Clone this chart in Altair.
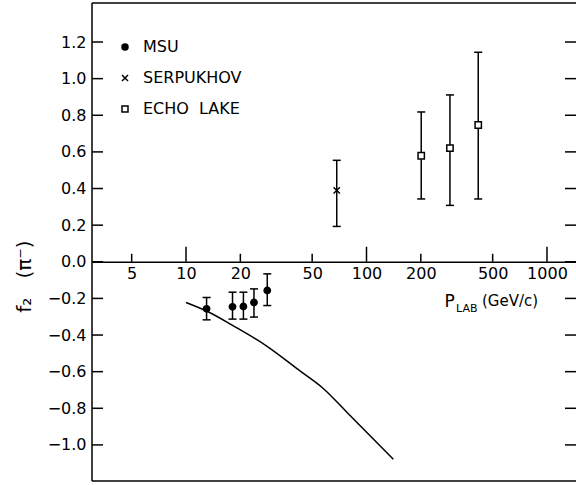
import altair as alt
import pandas as pd

# ---------------- data ----------------
msu_p = [13.0, 18.1, 20.8, 23.8, 28.2]
msu_f2 = [-0.257, -0.246, -0.244, -0.222, -0.157]
msu_lo = [-0.317, -0.313, -0.313, -0.302, -0.239]
msu_hi = [-0.195, -0.166, -0.166, -0.148, -0.066]

serp_p = [68.4]
serp_f2 = [0.39]
serp_lo = [0.193]
serp_hi = [0.554]

echo_p = [201.0, 290.0, 416.0]
echo_f2 = [0.579, 0.621, 0.747]
echo_lo = [0.343, 0.308, 0.343]
echo_hi = [0.818, 0.911, 1.144]

curve_p = [10.0, 13.0, 18.3, 28.0, 42.8, 57.6, 77.6, 140.8]
curve_f2 = [-0.222, -0.269, -0.350, -0.460, -0.596, -0.692, -0.820, -1.078]

experiments = ["MSU", "SERPUKHOV", "ECHO\u00a0 LAKE"]
x_major_ticks = [10, 100, 1000]
x_minor_ticks = [5, 20, 50, 200, 500]
x_tick_labels = [5, 10, 20, 50, 100, 200, 500, 1000]
y_tick_values = [-1.0, -0.8, -0.6, -0.4, -0.2, 0.0, 0.2, 0.4, 0.6, 0.8, 1.0, 1.2]

# ---------------- tables ----------------
pts = pd.concat([
    pd.DataFrame({"p": msu_p, "f2": msu_f2, "lo": msu_lo, "hi": msu_hi, "exp": experiments[0]}),
    pd.DataFrame({"p": serp_p, "f2": serp_f2, "lo": serp_lo, "hi": serp_hi, "exp": experiments[1]}),
    pd.DataFrame({"p": echo_p, "f2": echo_f2, "lo": echo_lo, "hi": echo_hi, "exp": experiments[2]}),
], ignore_index=True)
curve = pd.DataFrame({"p": curve_p, "f2": curve_f2})
xmaj = pd.DataFrame({"v": x_major_ticks})
xmin = pd.DataFrame({"v": x_minor_ticks})
yt = pd.DataFrame({"v": y_tick_values})
one = pd.DataFrame({"a": [0]})

# ---------------- layout ----------------
W, H = 484, 478
FONT = "DejaVu Sans"
Y_LO, Y_HI = -1.197, 1.413
y0_px = H * (Y_HI - 0) / (Y_HI - Y_LO)

xscale = alt.Scale(type="log", domain=[3.014, 1448], nice=False)
yscale = alt.Scale(domain=[Y_LO, Y_HI], nice=False, zero=False)

xaxis = alt.Axis(
    values=x_tick_labels, format="d", ticks=False, grid=False,
    domain=True, domainColor="black", domainWidth=1.5,
    labelFont=FONT, labelFontSize=16, labelColor="black", labelPadding=4,
    labelFlush=False, labelOverlap=False,
    offset=-(H - y0_px),
    title="P", titleFont=FONT, titleFontSize=17, titleFontWeight="normal",
    titleColor="black", titleAlign="left", titleBaseline="alphabetic",
    titleX=352, titleY=44.7,
)
yaxis = alt.Axis(
    values=y_tick_values, format=".1f", ticks=False, grid=False, domain=False,
    labelFont=FONT, labelFontSize=16, labelColor="black", labelPadding=6,
    labelOverlap=False,
    title="f\u2082\u00a0\u00a0 (\u03c0\u207b)", titleFont=FONT, titleFontSize=20,
    titleFontWeight="normal", titleColor="black", titleAngle=270,
    titleAlign="center", titleBaseline="alphabetic", titleX=-62, titleY=273,
)


def X(field):
    return alt.X(field, type="quantitative", scale=xscale, axis=xaxis)


def Y(field):
    return alt.Y(field, type="quantitative", scale=yscale, axis=yaxis)


Y0 = alt.Y(datum=0, type="quantitative", scale=yscale, axis=yaxis)

legend = alt.Legend(
    title=None, orient="none", legendX=25, legendY=36, padding=0,
    labelFont=FONT, labelFontSize=16, labelColor="black", labelOffset=10,
    symbolSize=36, symbolStrokeWidth=1.5, symbolStrokeColor="black",
    rowPadding=15,
)
shape_scale = alt.Scale(domain=experiments,
                        range=["circle", "M-1,-1L1,1M-1,1L1,-1", "square"])
fill_scale = alt.Scale(domain=experiments, range=["black", "transparent", "white"])
stroke_scale = alt.Scale(domain=experiments, range=["black", "black", "black"])

# ---------------- layers ----------------
frame_left = alt.Chart(one).mark_rule(color="black", strokeWidth=1.5).encode(
    x=alt.value(0), y=alt.value(0), y2=alt.value(H))
frame_top = alt.Chart(one).mark_rule(color="black", strokeWidth=1.5).encode(
    x=alt.value(0), x2=alt.value(W), y=alt.value(0))
frame_bot = alt.Chart(one).mark_rule(color="black", strokeWidth=1.5).encode(
    x=alt.value(0), x2=alt.value(W), y=alt.value(H))

yticks_left = alt.Chart(yt).mark_tick(
    orient="horizontal", size=11, thickness=1.5, color="black", opacity=1
).encode(y=Y("v"), x=alt.value(5.5))
yticks_right = alt.Chart(yt).mark_tick(
    orient="horizontal", size=11, thickness=1.5, color="black", opacity=1
).encode(y=Y("v"), x=alt.value(W - 5.5))

xticks_major = alt.Chart(xmaj).mark_tick(
    orient="vertical", size=15, thickness=1.5, color="black", opacity=1, yOffset=-7.5
).encode(x=X("v"), y=Y0)
xticks_minor = alt.Chart(xmin).mark_tick(
    orient="vertical", size=8, thickness=1.5, color="black", opacity=1, yOffset=-4
).encode(x=X("v"), y=Y0)

line = alt.Chart(curve).mark_line(
    color="black", strokeWidth=1.5, interpolate="monotone"
).encode(x=X("p"), y=Y("f2"))

err = alt.Chart(pts).mark_rule(color="black", strokeWidth=1.5).encode(
    x=X("p"), y=Y("lo"), y2=alt.Y2("hi"))
cap_lo = alt.Chart(pts).mark_tick(
    orient="horizontal", size=8, thickness=1.5, color="black", opacity=1
).encode(x=X("p"), y=Y("lo"))
cap_hi = alt.Chart(pts).mark_tick(
    orient="horizontal", size=8, thickness=1.5, color="black", opacity=1
).encode(x=X("p"), y=Y("hi"))

points = alt.Chart(pts).mark_point(
    strokeWidth=1.5, size=40, opacity=1, fillOpacity=1
).encode(
    x=X("p"), y=Y("f2"),
    shape=alt.Shape("exp:N", scale=shape_scale, legend=legend),
    fill=alt.Fill("exp:N", scale=fill_scale, legend=legend),
    stroke=alt.Stroke("exp:N", scale=stroke_scale, legend=legend),
)

lab_sub = alt.Chart(pd.DataFrame({"t": ["LAB"]})).mark_text(
    align="left", baseline="alphabetic", font=FONT, fontSize=11, color="black"
).encode(x=alt.value(364), y=alt.value(308.5), text="t:N")
lab_unit = alt.Chart(pd.DataFrame({"t": ["(GeV/c)"]})).mark_text(
    align="left", baseline="alphabetic", font=FONT, fontSize=15, color="black"
).encode(x=alt.value(390), y=alt.value(303), text="t:N")

chart = alt.layer(
    line, err, cap_lo, cap_hi, points,
    xticks_major, xticks_minor, yticks_left, yticks_right,
    frame_left, frame_top, frame_bot, lab_sub, lab_unit,
).properties(
    width=W, height=H,
    autosize=alt.AutoSizeParams(type="none"),
    padding={"left": 92, "top": 3, "right": 0, "bottom": 4},
    background="white",
).configure_view(stroke=None)

chart.save("out.html", embed_options={"renderer": "svg", "actions": False})
